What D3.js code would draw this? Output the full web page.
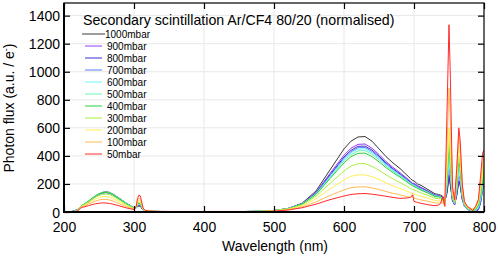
<!DOCTYPE html>
<html><head><meta charset="utf-8">
<script src="https://cdn.jsdelivr.net/npm/d3@7"></script>
<style>body{margin:0;background:#fff}svg{display:block;font-family:"Liberation Sans",Arial,Helvetica,sans-serif}</style>
</head><body><svg id="c" width="498" height="259"></svg>
<script>
const wavelengths = [200,205,210,215,220,223,226,230,235,240,245,250,255,260,265,270,280,290,300,303,305,307,309,311,313,316,320,330,350,400,450,
  480,500,520,540,560,580,600,610,620,630,640,650,660,670,680,690,695,698,700,705,710,720,730,735,738,741,744,
  747,750,752,755,758,761,764,766,769,772,776,780,784,788,792,795,798,800];

const p1000 = [0,0,1,4,12,30,42,55,72,92,110,128,140,145,140,128,95,60,30,28,38,42,40,28,14,7,5,4,3,3,3,
  5,10,25,62,150,300,450,505,535,538,505,450,395,350,310,262,238,225,222,200,190,160,130,125,120,112,80,
  130,240,190,80,55,120,215,190,90,50,30,20,10,5,25,80,190,260];
const p900 = [0,0,2,8,18,32,44,56,72,92,110,126,136,140,136,124,92,58,30,30,40,46,44,30,15,7,5,4,3,3,3,
  5,10,25,60,140,275,405,455,482,485,455,410,360,318,280,240,218,205,205,188,175,150,122,118,115,105,75,
  140,255,200,80,55,120,220,195,90,45,25,15,5,5,20,70,170,240];
const p800 = [0,0,3,10,20,34,45,57,73,93,110,126,135,138,134,122,90,57,30,30,42,48,46,31,15,7,5,4,3,3,3,
  5,10,25,58,135,265,392,440,468,470,442,398,350,308,272,232,212,200,198,182,170,145,118,115,112,100,72,
  145,265,205,80,50,120,225,195,90,40,20,10,0,5,15,60,160,230];
const p700 = [0,0,2,8,18,35,46,58,75,95,113,128,137,140,136,124,92,58,30,30,45,52,50,33,16,7,5,4,3,3,3,
  5,10,24,57,132,258,383,430,458,460,432,390,343,302,266,228,208,198,195,178,166,142,116,113,110,98,70,
  170,320,240,90,55,140,260,225,100,40,20,10,0,5,20,70,150,220];
const p600 = [0,0,2,7,17,36,47,60,77,97,115,130,139,142,138,125,93,58,30,31,47,55,52,35,16,7,5,4,3,3,3,
  5,10,24,56,130,252,375,422,448,450,422,382,336,296,262,224,205,195,192,175,163,140,115,112,108,96,68,
  190,360,270,95,60,155,290,250,110,45,25,15,5,10,30,90,180,250];
const p500 = [0,0,2,6,16,36,47,60,77,97,115,130,139,142,138,125,92,57,29,31,50,58,55,37,17,7,5,4,3,3,3,
  5,10,24,56,128,246,365,410,436,438,412,372,328,290,256,220,202,192,188,172,160,138,113,110,106,94,66,
  210,395,295,100,60,170,320,275,120,50,25,15,5,15,40,100,200,280];
const p400 = [0,0,2,6,15,36,48,61,78,98,116,130,138,140,135,122,90,55,28,32,55,62,60,40,18,8,5,4,3,3,3,
  5,10,23,55,125,238,350,395,418,420,395,358,316,280,248,214,196,186,183,168,156,135,110,107,104,92,64,
  240,465,345,110,65,190,360,310,130,55,30,20,10,20,50,120,230,300];
const p300 = [0,0,2,5,14,34,45,57,72,90,106,118,126,128,124,112,82,50,26,32,60,70,66,44,20,8,5,4,3,3,3,
  5,9,22,50,112,205,292,328,344,345,326,298,265,236,210,183,168,160,158,146,136,118,98,95,93,82,58,
  265,515,385,120,70,210,400,345,140,60,30,20,10,30,60,140,260,330];
const p200 = [0,0,1,4,12,32,42,52,65,80,94,104,110,110,106,96,70,43,23,33,68,82,78,50,22,9,6,4,3,3,3,
  4,8,20,44,95,165,228,255,264,265,252,232,208,186,168,148,138,132,130,120,112,98,82,80,78,70,50,
  310,600,450,130,70,240,465,400,160,65,35,25,15,30,70,160,300,360];
const p100 = [0,0,1,3,10,30,38,46,56,68,78,86,90,90,86,78,57,36,20,35,78,98,92,58,24,10,6,4,3,3,3,
  4,7,17,36,72,118,158,173,179,180,172,160,146,133,122,110,104,130,98,92,86,76,65,64,62,70,42,
  450,885,640,150,75,270,540,460,180,70,40,30,20,40,80,200,340,400];
const p50 = [0,0,1,3,8,26,32,38,45,53,59,63,65,64,61,56,42,28,18,38,95,120,115,72,28,12,7,5,4,4,4,
  3,6,14,30,56,88,114,125,130,132,127,120,112,104,97,100,105,120,75,68,62,52,45,50,60,110,40,
  680,1335,950,180,85,310,600,510,200,75,40,25,10,40,90,250,420,440];

const seriesNames = ["1000mbar","900mbar","800mbar","700mbar","600mbar","500mbar","400mbar","300mbar","200mbar","100mbar","50mbar"];
const seriesValues = [p1000,p900,p800,p700,p600,p500,p400,p300,p200,p100,p50];
const seriesColors = ["#3a3a3a","#9b3cf5","#3a2fd0","#5b7cff","#6ef2ff","#6af5b8","#2fcc3a","#a8f040","#ffee55","#ffbb55","#ff2a2a"];
const xTicks = [200,300,400,500,600,700,800];
const yTicks = [0,200,400,600,800,1000,1200,1400];
const titleText = "Secondary scintillation Ar/CF4 80/20 (normalised)";

const svg = d3.select("#c");
const L=64, R=484, T=3, B=212;
const x = d3.scaleLinear().domain([200,800]).range([L,R]);
const y = d3.scaleLinear().domain([0,1490]).range([B,T]);

// grid
const g = svg.append("g");
g.selectAll(".gx").data(xTicks.slice(1,-1)).join("line")
  .attr("x1",d=>x(d)).attr("x2",d=>x(d)).attr("y1",T).attr("y2",B)
  .attr("stroke","#e8e8e8").attr("stroke-width",1);
g.selectAll(".gy").data(yTicks.slice(1)).join("line")
  .attr("y1",d=>y(d)).attr("y2",d=>y(d)).attr("x1",L).attr("x2",R)
  .attr("stroke","#e8e8e8").attr("stroke-width",1);

// lines
svg.append("clipPath").attr("id","clip").append("rect").attr("x",L).attr("y",T).attr("width",R-L).attr("height",B-T);
const line = d3.line().x((d,i)=>x(wavelengths[i])).y(d=>y(d));
svg.append("g").attr("clip-path","url(#clip)").selectAll("path").data(seriesValues).join("path")
  .attr("d",d=>line(d)).attr("fill","none").attr("stroke",(d,i)=>seriesColors[i]).attr("stroke-width",1)
  .attr("stroke-linejoin","round");

// axes (ticks inside)
const fmt = d3.format("d");
const axB = svg.append("g").attr("transform",`translate(0,${B})`).call(d3.axisBottom(x).tickValues(xTicks).tickFormat(fmt).tickSize(-6).tickPadding(10));
const axT = svg.append("g").attr("transform",`translate(0,${T})`).call(d3.axisTop(x).tickValues(xTicks).tickSize(-6).tickFormat(""));
const axL = svg.append("g").attr("transform",`translate(${L},0)`).call(d3.axisLeft(y).tickValues(yTicks).tickFormat(fmt).tickSize(-6).tickPadding(4));
const axR = svg.append("g").attr("transform",`translate(${R},0)`).call(d3.axisRight(y).tickValues(yTicks).tickSize(-6).tickFormat(""));
[axB,axT,axL,axR].forEach(a=>{
  a.select(".domain").remove();
  a.selectAll(".tick line").attr("stroke","#000").attr("stroke-width",1.2);
  a.selectAll(".tick text").attr("font-size",14).attr("fill","#000").attr("font-family","'Liberation Sans',Arial,sans-serif");
});
axL.selectAll(".tick text").attr("x",-4).attr("dy","0.36em");
// frame
svg.append("rect").attr("x",L).attr("y",T).attr("width",R-L).attr("height",B-T).attr("fill","none").attr("stroke","#000").attr("stroke-width",1.2);
svg.append("line").attr("x1",L).attr("x2",L).attr("y1",T).attr("y2",B+1).attr("stroke","#000").attr("stroke-width",2);
svg.append("line").attr("x1",L-1).attr("x2",R).attr("y1",B).attr("y2",B).attr("stroke","#000").attr("stroke-width",2);

// axis titles
svg.append("text").attr("x",275).attr("y",251).attr("text-anchor","middle").attr("font-size",14).text("Wavelength (nm)");
const yt = svg.append("text").attr("transform","translate(14,108) rotate(-90)").attr("text-anchor","middle").attr("font-size",14);
yt.append("tspan").text("Photon flux (a.u. / e");
yt.append("tspan").attr("font-size",9).attr("dy",-5).text("-");
yt.append("tspan").attr("dy",5).text(")");

// legend
svg.append("text").attr("x",83).attr("y",25).attr("font-size",14.2).text(titleText);
const lg = svg.append("g").selectAll("g").data(seriesNames).join("g")
  .attr("transform",(d,i)=>`translate(0,${34+i*12})`);
lg.append("line").attr("x1",(d,i)=>i===0?82:85).attr("x2",(d,i)=>i===0?105:102).attr("y1",0).attr("y2",0)
  .attr("stroke",(d,i)=>seriesColors[i]).attr("stroke-width",1);
lg.append("text").attr("x",(d,i)=>i===0?105:107).attr("y",3.5).attr("font-size",10).text(d=>d);
</script></body></html>
